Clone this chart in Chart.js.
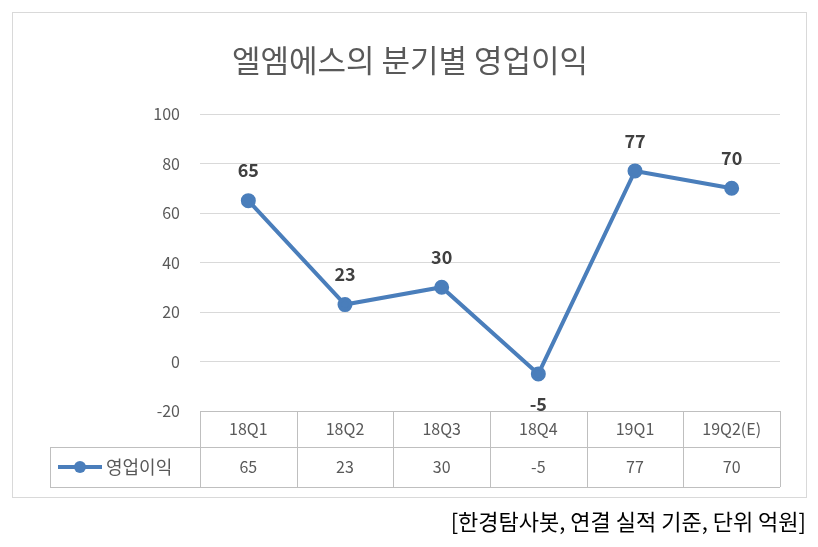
<!DOCTYPE html>
<html>
<head>
<meta charset="utf-8">
<script src="https://cdn.jsdelivr.net/npm/chart.js@4"></script>
<style>
  html, body { margin: 0; padding: 0; background: #fff; }
  #wrap { width: 818px; height: 547px; }
</style>
</head>
<body>
<div id="wrap"><canvas id="chart" width="818" height="547"></canvas></div>
<script>
const quarters = ["18Q1", "18Q2", "18Q3", "18Q4", "19Q1", "19Q2(E)"];
const profit = [65, 23, 30, -5, 77, 70];
const seriesName = "영업이익";
const titleText = "엘엠에스의 분기별 영업이익";
const captionText = "[한경탐사봇, 연결 실적 기준, 단위 억원]";

const font = "'Noto Sans CJK KR', 'Noto Sans', sans-serif";
const lineColor = "#4a7ebb";
const textGrey = "#595959";

const decor = {
  id: "decor",
  beforeDraw(chart) {
    const ctx = chart.ctx;
    ctx.save();
    ctx.fillStyle = "#fff";
    ctx.fillRect(0, 0, chart.width, chart.height);
    ctx.strokeStyle = "#d9d9d9";
    ctx.lineWidth = 1;
    ctx.strokeRect(12.5, 12.5, 794, 485);
    ctx.restore();
  },
  afterDraw(chart) {
    const ctx = chart.ctx;
    const x = chart.scales.x;
    const area = chart.chartArea;
    const half = (x.getPixelForValue(1) - x.getPixelForValue(0)) / 2;
    const top = area.bottom, mid = top + 36, bot = mid + 40, leftCol = 50;
    ctx.save();
    // title
    ctx.fillStyle = textGrey;
    ctx.font = "31px " + font;
    ctx.textAlign = "center";
    ctx.textBaseline = "middle";
    ctx.fillText(titleText, 410, 60);

    // data labels
    const meta = chart.getDatasetMeta(0);
    ctx.fillStyle = "#404040";
    ctx.font = "bold 18px " + font;
    meta.data.forEach((pt, i) => {
      const dy = profit[i] < 0 ? 30 : -30;
      ctx.fillText(String(profit[i]), pt.x, pt.y + dy);
    });

    // table grid
    ctx.strokeStyle = "#bfbfbf";
    ctx.lineWidth = 1;
    ctx.beginPath();
    ctx.moveTo(area.left, top + 0.5); ctx.lineTo(area.right, top + 0.5);
    ctx.moveTo(leftCol, mid + 0.5); ctx.lineTo(area.right, mid + 0.5);
    ctx.moveTo(leftCol, bot + 0.5); ctx.lineTo(area.right, bot + 0.5);
    ctx.moveTo(leftCol + 0.5, mid); ctx.lineTo(leftCol + 0.5, bot);
    for (let i = 0; i <= quarters.length; i++) {
      const px = Math.round(x.getPixelForValue(i) - half) + 0.5;
      ctx.moveTo(px, top); ctx.lineTo(px, bot);
    }
    ctx.stroke();

    ctx.font = "16px " + font;
    ctx.fillStyle = textGrey;
    quarters.forEach((q, i) => {
      const px = x.getPixelForValue(i);
      ctx.fillText(q, px, (top + mid) / 2);
      ctx.fillText(String(profit[i]), px, (mid + bot) / 2);
    });

    // legend key
    const ly = (mid + bot) / 2;
    ctx.strokeStyle = lineColor;
    ctx.lineWidth = 4;
    ctx.beginPath(); ctx.moveTo(58, ly); ctx.lineTo(102, ly); ctx.stroke();
    ctx.fillStyle = lineColor;
    ctx.beginPath(); ctx.arc(80, ly, 6, 0, Math.PI * 2); ctx.fill();
    ctx.fillStyle = textGrey;
    ctx.textAlign = "left";
    ctx.font = "18px " + font;
    ctx.fillText(seriesName, 106, ly);

    // caption
    ctx.fillStyle = "#000";
    ctx.textAlign = "right";
    ctx.font = "22px " + font;
    ctx.fillText(captionText, 806, 522);
    ctx.restore();
  }
};

new Chart(document.getElementById("chart"), {
  type: "line",
  data: {
    labels: quarters,
    datasets: [{
      label: seriesName,
      data: profit,
      borderColor: lineColor,
      backgroundColor: lineColor,
      borderWidth: 4,
      pointRadius: 5.5,
      pointHoverRadius: 5.5,
      tension: 0,
    }],
  },
  options: {
    responsive: false,
    animation: false,
    layout: { padding: { left: 0, right: 38, top: 114, bottom: 136 } },
    plugins: { legend: { display: false }, title: { display: false }, tooltip: { enabled: false } },
    scales: {
      x: { display: false, offset: true },
      y: {
        min: -20, max: 100,
        ticks: { stepSize: 20, color: textGrey, font: { size: 16, family: font }, padding: 20 },
        grid: { color: "#d9d9d9", drawTicks: false },
        border: { display: false },
        afterFit: (s) => { s.width = 200; },
      },
    },
  },
  plugins: [decor],
});
</script>
</body>
</html>
